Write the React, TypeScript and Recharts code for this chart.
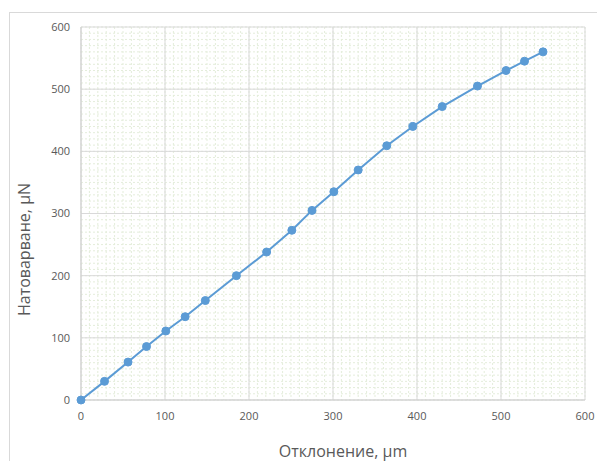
import React from "react";
import { LineChart, Line, XAxis, YAxis, CartesianGrid, Label } from "recharts";

const deflection = [0, 28, 56, 78, 101, 124, 148, 185, 221, 251, 275, 301, 330, 364, 395, 430, 472, 506, 528, 550];
const load = [0, 30, 61, 86, 111, 134, 160, 200, 238, 273, 305, 335, 370, 409, 440, 472, 505, 530, 545, 560];
const majorTicks = [0, 100, 200, 300, 400, 500, 600];
const minorTicks = Array.from({ length: 61 }, (_, i) => i * 10);

const data = deflection.map((x, i) => ({ x, y: load[i] }));

const tickStyle = { fill: "#595959", fontSize: 11, fontFamily: "Open Sans" };
const titleStyle = { fill: "#595959", fontSize: 16, fontFamily: "Open Sans" };

const XTitle = (props: any) => {
  const vb = props.viewBox || {};
  const cx = vb.x + vb.width / 2 + 10;
  const cy = vb.y + vb.height + 27;
  return (
    <text x={cx} y={cy} textAnchor="middle" style={titleStyle}>
      Отклонение, µm
    </text>
  );
};

const YTitle = (props: any) => {
  const vb = props.viewBox || {};
  const cx = vb.x - 1;
  const cy = vb.y + vb.height / 2 + 36;
  return (
    <text x={cx} y={cy} textAnchor="middle" transform={`rotate(-90, ${cx}, ${cy})`} style={titleStyle}>
      Натоварване, µN
    </text>
  );
};

const applyScale = (s: any, v: number): number | undefined => {
  try {
    if (typeof s === "function") return s(v);
    if (s && typeof s.map === "function") return s.map(v);
    if (s && typeof s.scale === "function") return s.scale(v);
  } catch (e) {
    return undefined;
  }
  return undefined;
};

const minorH = (p: any) => {
  const s = p?.yAxis?.scale;
  return minorTicks.map((t) => applyScale(s, t)).filter((v) => typeof v === "number" && isFinite(v as number)) as number[];
};
const minorV = (p: any) => {
  const s = p?.xAxis?.scale;
  return minorTicks.map((t) => applyScale(s, t)).filter((v) => typeof v === "number" && isFinite(v as number)) as number[];
};

export default function App() {
  return (
    <div style={{ position: "absolute", left: 0, top: 0, width: 597, height: 461, overflow: "hidden", background: "#fff" }}>
      <div style={{ position: "absolute", left: 9, top: 12, width: 620, height: 480, border: "1px solid #d9d9d9" }} />
      <div style={{ position: "absolute", left: 0, top: 0 }}>
        <LineChart width={597} height={461} data={data} margin={{ top: 27, right: 12, bottom: 31, left: 31 }}>
          <CartesianGrid
            stroke="#e4eddb"
            strokeDasharray="2 2"
            horizontalCoordinatesGenerator={minorH}
            verticalCoordinatesGenerator={minorV}
          />
          <CartesianGrid stroke="#d9d9d9" />
          <XAxis
            dataKey="x"
            type="number"
            domain={[0, 600]}
            ticks={majorTicks}
            tickLine={false}
            axisLine={{ stroke: "#d0d0d0" }}
            tick={tickStyle}
            tickMargin={6}
            height={30}
            interval={0}
          >
            <Label content={XTitle} />
          </XAxis>
          <YAxis
            type="number"
            domain={[0, 600]}
            ticks={majorTicks}
            tickLine={false}
            axisLine={{ stroke: "#d0d0d0" }}
            tick={tickStyle}
            tickMargin={5}
            width={50}
            interval={0}
          >
            <Label content={YTitle} />
          </YAxis>
          <Line
            type="linear"
            dataKey="y"
            stroke="#5b9bd5"
            strokeWidth={2}
            dot={{ r: 4, fill: "#5b9bd5", stroke: "#5b9bd5", strokeWidth: 1 }}
            isAnimationActive={false}
          />
        </LineChart>
      </div>
    </div>
  );
}
